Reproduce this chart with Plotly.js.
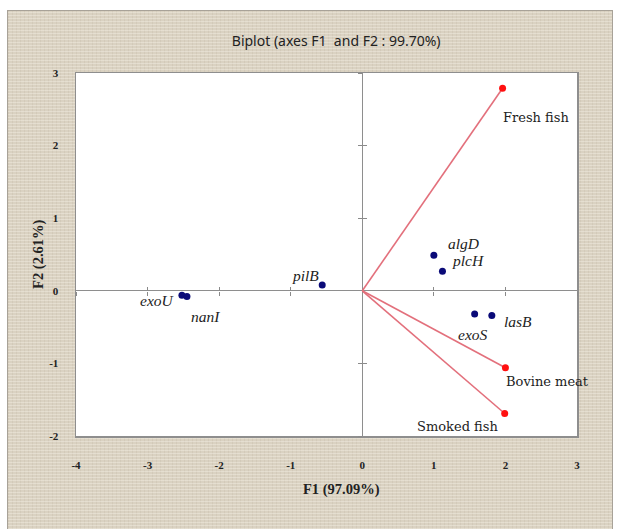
<!DOCTYPE html>
<html><head><meta charset="utf-8">
<script src="https://cdn.plot.ly/plotly-3.0.1.min.js"></script>
<style>
html,body{margin:0;padding:0;background:#fff;width:618px;height:529px;overflow:hidden}
#bg{position:absolute;left:7px;top:10px;width:604px;height:530px;border:1px solid #a8a298;
background-color:#dad2c2;
background-image:
 repeating-linear-gradient(0deg, rgba(250,246,236,0.35) 0px, rgba(250,246,236,0.35) 1px, transparent 1px, transparent 3px),
 repeating-linear-gradient(90deg, rgba(150,135,110,0.10) 0px, rgba(150,135,110,0.10) 1px, transparent 1px, transparent 4px);}
#chart{position:absolute;left:0;top:0;width:618px;height:529px}
</style></head>
<body>
<div id="bg"></div>
<div id="chart"></div>
<script>
// ---- data ----
const variables = ['exoU','nanI','pilB','algD','plcH','exoS','lasB'];
const varF1 = [-2.52,-2.45,-0.56,1.00,1.12,1.57,1.81];
const varF2 = [-0.06,-0.08,0.08,0.49,0.27,-0.32,-0.34];
const observations = ['Fresh fish','Bovine meat','Smoked fish'];
const obsF1 = [1.96,2.00,1.99];
const obsF2 = [2.79,-1.06,-1.69];
const xTicks = [-4,-3,-2,-1,0,1,2,3];
const yTicks = [-2,-1,0,1,2,3];
const chartTitle = 'Biplot (axes F1&nbsp; and F2 : 99.70%)';
const xTitle = 'F1 (97.09%)';
const yTitle = 'F2 (2.61%)';

// ---- styling (label offsets in px) ----
const varShift = [[-24,-5],[19,-20],[-17,9],[30,12],[26,11],[-2,-20],[26,-6]];
const obsShift = [[33,-29],[42,-14],[-47,-13]];

const xr = [xTicks[0], xTicks[xTicks.length-1]];
const yr = [yTicks[0], yTicks[yTicks.length-1]];
const tickTxt = v => String(v);

const traces = [];
observations.forEach((o,i)=>{
  traces.push({x:[0,obsF1[i]], y:[0,obsF2[i]], mode:'lines', type:'scatter',
    line:{color:'#e3707c', width:1.6}, hoverinfo:'skip', showlegend:false});
});
traces.push({x:obsF1, y:obsF2, mode:'markers', type:'scatter', name:'obs',
  marker:{color:'#ff1010', size:7}, showlegend:false});
traces.push({x:varF1, y:varF2, mode:'markers', type:'scatter', name:'vars',
  marker:{color:'#0a0a78', size:7}, showlegend:false});
// carrier traces for the tick axes on the zero lines
traces.push({x:[], y:[], xaxis:'x2', yaxis:'y', type:'scatter', showlegend:false});
traces.push({x:[], y:[], xaxis:'x3', yaxis:'y', type:'scatter', showlegend:false});
traces.push({x:[], y:[], xaxis:'x', yaxis:'y2', type:'scatter', showlegend:false});
traces.push({x:[], y:[], xaxis:'x', yaxis:'y3', type:'scatter', showlegend:false});

const annotations = [];
variables.forEach((v,i)=>annotations.push({x:varF1[i], y:varF2[i], text:v, showarrow:false,
  xshift:varShift[i][0], yshift:varShift[i][1],
  font:{family:'Liberation Serif, serif', size:15.5, color:'#222', style:'italic'}}));
observations.forEach((o,i)=>annotations.push({x:obsF1[i], y:obsF2[i], text:o, showarrow:false,
  xshift:obsShift[i][0], yshift:obsShift[i][1],
  font:{family:'DejaVu Serif, serif', size:13, color:'#222'}}));
annotations.push({xref:'paper', yref:'paper', x:0.53, y:-0.176, text:'<b>'+xTitle+'</b>', showarrow:false,
  font:{family:'Liberation Serif, serif', size:14.5, color:'#222'}});
annotations.push({xref:'paper', yref:'paper', x:-0.096, y:0.5, text:'<b>'+yTitle+'</b>', showarrow:false, textangle:-90,
  font:{family:'Liberation Serif, serif', size:14.5, color:'#222'}});

const tickFont = {family:'Liberation Serif, serif', size:11, color:'#222', weight:'bold'};
const zeroPosX = (0 - yr[0])/(yr[1]-yr[0]);
const zeroPosY = (0 - xr[0])/(xr[1]-xr[0]);
const tickAx = (side, ticks, range, pos, dir, overl) => ({
  overlaying:overl, anchor:'free', position:pos, side:side, range:range,
  tickvals:ticks.filter(t=>t!==0), ticks:dir, ticklen:4, tickwidth:1, tickcolor:'#8a8a8a',
  showticklabels:false, showline:false, zeroline:false, showgrid:false, fixedrange:true});

const layout = {
  width:618, height:529,
  margin:{l:76, r:41, t:73, b:93},
  paper_bgcolor:'rgba(0,0,0,0)', plot_bgcolor:'#ffffff',
  title:{text:chartTitle, xref:'container', yref:'container', x:0.544, y:0.922, xanchor:'center', yanchor:'middle',
    font:{family:'Noto Sans, sans-serif', size:14, color:'#222'}},
  xaxis:{range:xr, tickvals:xTicks, ticktext:xTicks.map(tickTxt), ticks:'', tickfont:tickFont,
    ticklabelstandoff:18, showline:true, mirror:true, linecolor:'#8e8e8e', linewidth:1.5,
    showgrid:false, zeroline:true, zerolinecolor:'#8e8e8e', zerolinewidth:1, fixedrange:true},
  yaxis:{range:yr, tickvals:yTicks, ticktext:yTicks.map(tickTxt), ticks:'', tickfont:tickFont,
    ticklabelstandoff:14, showline:true, mirror:true, linecolor:'#8e8e8e', linewidth:1.5,
    showgrid:false, zeroline:true, zerolinecolor:'#8e8e8e', zerolinewidth:1, fixedrange:true},
  xaxis2:tickAx('bottom', xTicks, xr, zeroPosX, 'outside', 'x'),
  xaxis3:tickAx('bottom', xTicks, xr, zeroPosX, 'inside', 'x'),
  yaxis2:tickAx('left', yTicks, yr, zeroPosY, 'outside', 'y'),
  yaxis3:tickAx('left', yTicks, yr, zeroPosY, 'inside', 'y'),
  annotations:annotations,
  showlegend:false
};
Plotly.newPlot('chart', traces, layout, {displayModeBar:false, staticPlot:true});
</script>
</body></html>
